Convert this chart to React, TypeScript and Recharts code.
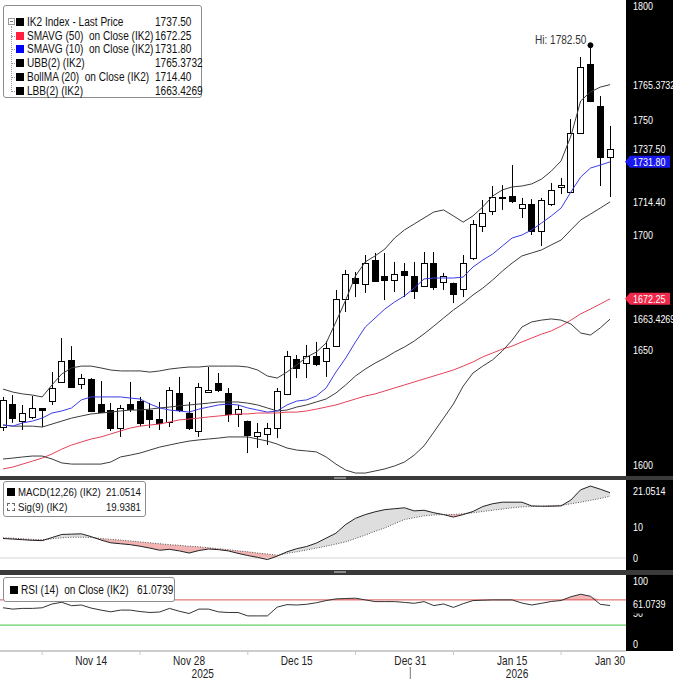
import React from 'react';
import { ComposedChart, Bar, Line, Area, XAxis, YAxis, ReferenceLine, ReferenceDot } from 'recharts';

// daily candles, oldest first
const opens = [1616.5, 1626.5, 1619.1, 1620.9, 1624.8, 1627.8, 1636.1, 1645.7, 1635.2, 1637.4, 1626.5, 1623.9, 1616.1, 1626.5, 1627.8, 1623.9, 1620.0, 1618.7, 1631.3, 1622.6, 1614.8, 1631.7, 1635.7, 1631.3, 1622.2, 1619.1, 1612.6, 1613.5, 1616.1, 1630.9, 1646.1, 1644.3, 1647.4, 1645.2, 1651.7, 1672.2, 1681.3, 1678.7, 1689.1, 1682.2, 1680.4, 1684.3, 1682.2, 1677.8, 1687.8, 1679.6, 1679.1, 1676.5, 1690.0, 1703.9, 1710.4, 1716.5, 1717.0, 1711.7, 1713.5, 1701.7, 1713.5, 1720.9, 1718.7, 1744.3, 1774.3, 1756.1, 1733.9];
const highs = [1629.6, 1630.4, 1626.1, 1630.0, 1624.8, 1640.4, 1655.2, 1651.7, 1639.6, 1637.8, 1636.5, 1627.0, 1626.1, 1636.1, 1629.6, 1627.0, 1627.4, 1633.9, 1638.3, 1627.4, 1635.7, 1642.6, 1640.0, 1633.5, 1626.1, 1619.3, 1618.3, 1618.3, 1633.5, 1649.6, 1647.8, 1652.2, 1653.5, 1653.9, 1676.1, 1684.8, 1683.9, 1691.3, 1692.2, 1692.2, 1688.3, 1687.8, 1688.3, 1692.6, 1692.6, 1683.5, 1679.3, 1691.3, 1706.5, 1715.2, 1721.3, 1721.7, 1730.4, 1716.1, 1715.6, 1716.1, 1722.6, 1724.8, 1750.4, 1777.4, 1782.5, 1760.4, 1747.4];
const lows = [1614.8, 1618.3, 1615.2, 1620.0, 1616.5, 1626.1, 1635.7, 1633.5, 1633.0, 1623.0, 1622.6, 1614.8, 1612.2, 1623.0, 1616.9, 1616.1, 1615.2, 1616.5, 1623.0, 1615.2, 1612.2, 1631.3, 1631.7, 1618.7, 1616.5, 1605.2, 1607.4, 1608.7, 1611.7, 1630.4, 1637.8, 1637.8, 1643.0, 1638.3, 1651.3, 1666.5, 1673.0, 1674.8, 1679.6, 1671.7, 1675.2, 1673.0, 1672.2, 1677.4, 1676.1, 1676.1, 1670.4, 1673.0, 1689.1, 1701.3, 1708.7, 1710.9, 1713.9, 1707.4, 1700.0, 1695.2, 1712.6, 1717.8, 1718.3, 1743.9, 1757.8, 1721.3, 1716.5];
const closes = [1628.3, 1620.4, 1622.6, 1624.8, 1623.9, 1633.5, 1645.2, 1633.9, 1637.8, 1623.5, 1623.0, 1616.1, 1624.8, 1624.3, 1618.3, 1620.0, 1618.3, 1632.6, 1623.9, 1616.1, 1633.9, 1632.6, 1632.6, 1622.2, 1624.3, 1613.0, 1614.3, 1616.1, 1632.2, 1647.4, 1642.2, 1647.4, 1643.9, 1650.9, 1672.2, 1683.0, 1679.1, 1687.8, 1680.0, 1680.4, 1683.0, 1682.6, 1675.7, 1687.8, 1677.4, 1682.2, 1674.3, 1687.8, 1704.8, 1709.6, 1716.5, 1716.1, 1714.8, 1713.5, 1701.7, 1715.2, 1719.6, 1721.7, 1744.3, 1773.0, 1758.3, 1733.9, 1737.5];

// studies
const sma10 = [1617.4, 1616.9, 1618.3, 1619.1, 1620.4, 1622.6, 1623.5, 1624.8, 1628.3, 1629.6, 1629.6, 1629.6, 1629.6, 1629.1, 1628.7, 1626.5, 1624.8, 1623.9, 1623.5, 1623.0, 1624.3, 1625.2, 1626.1, 1626.5, 1626.1, 1624.8, 1623.9, 1623.0, 1623.5, 1626.1, 1627.8, 1628.3, 1630.0, 1633.5, 1640.4, 1646.5, 1653.5, 1660.0, 1663.9, 1667.8, 1670.9, 1673.5, 1676.9, 1680.9, 1681.3, 1681.3, 1681.3, 1681.7, 1686.1, 1689.1, 1691.7, 1695.2, 1698.7, 1700.0, 1702.2, 1705.2, 1708.3, 1711.7, 1718.7, 1725.2, 1729.1, 1730.4, 1731.8];
const sma50 = [1598.3, 1599.1, 1600.4, 1601.7, 1603.0, 1604.8, 1606.9, 1608.7, 1610.0, 1611.3, 1612.2, 1613.5, 1614.8, 1616.1, 1616.9, 1617.4, 1617.8, 1618.7, 1619.6, 1620.0, 1620.4, 1620.9, 1621.3, 1621.7, 1622.2, 1622.2, 1622.6, 1622.6, 1622.6, 1623.0, 1623.0, 1623.5, 1624.3, 1625.2, 1626.1, 1627.4, 1628.7, 1630.0, 1630.9, 1632.2, 1633.5, 1634.8, 1636.1, 1637.4, 1638.7, 1640.0, 1641.3, 1643.0, 1644.8, 1647.0, 1648.7, 1650.4, 1651.7, 1653.5, 1655.2, 1656.9, 1658.3, 1660.4, 1663.0, 1665.7, 1667.8, 1670.0, 1672.25];
const ubb = [1633.0, 1631.7, 1630.9, 1630.4, 1629.6, 1634.8, 1639.6, 1642.2, 1643.0, 1643.0, 1642.2, 1641.3, 1640.9, 1640.9, 1640.9, 1640.4, 1640.9, 1641.7, 1642.2, 1642.6, 1642.6, 1643.0, 1643.0, 1643.0, 1643.0, 1642.6, 1641.3, 1638.7, 1637.8, 1640.4, 1643.5, 1646.9, 1649.1, 1653.0, 1662.2, 1671.7, 1682.2, 1688.3, 1690.9, 1693.9, 1698.7, 1702.2, 1704.8, 1707.4, 1710.0, 1710.9, 1708.3, 1705.6, 1708.3, 1712.2, 1716.9, 1719.6, 1720.9, 1721.3, 1722.2, 1724.3, 1727.8, 1732.2, 1743.0, 1758.3, 1762.2, 1764.3, 1765.3732];
const bollMa = [1617.4, 1616.9, 1616.9, 1616.9, 1616.5, 1617.8, 1619.1, 1620.4, 1621.3, 1622.2, 1622.6, 1623.0, 1623.5, 1623.9, 1623.9, 1624.3, 1624.8, 1625.2, 1625.7, 1626.1, 1626.5, 1626.9, 1627.4, 1627.4, 1627.4, 1626.9, 1626.1, 1624.8, 1623.5, 1623.9, 1625.2, 1626.1, 1627.4, 1628.7, 1631.3, 1634.8, 1638.7, 1641.7, 1644.3, 1646.5, 1649.1, 1651.3, 1653.9, 1657.0, 1660.4, 1663.9, 1667.4, 1670.4, 1673.9, 1676.9, 1680.4, 1684.3, 1687.8, 1690.9, 1692.2, 1693.5, 1695.7, 1697.8, 1702.2, 1706.5, 1709.1, 1711.7, 1714.4];
const lbb = [1602.6, 1603.0, 1603.5, 1603.9, 1603.9, 1602.6, 1600.9, 1600.4, 1600.4, 1600.4, 1600.4, 1601.3, 1603.5, 1604.3, 1605.2, 1606.5, 1607.8, 1608.7, 1609.6, 1610.4, 1610.9, 1611.3, 1611.7, 1612.2, 1612.2, 1612.2, 1611.3, 1610.4, 1609.1, 1607.4, 1606.5, 1606.1, 1605.7, 1603.5, 1600.4, 1597.8, 1596.5, 1596.5, 1597.4, 1598.3, 1599.6, 1601.3, 1604.3, 1608.3, 1614.3, 1620.4, 1626.5, 1634.3, 1640.0, 1643.0, 1645.7, 1649.6, 1654.3, 1660.0, 1662.2, 1663.0, 1663.5, 1663.0, 1661.3, 1657.4, 1656.5, 1659.6, 1663.4269];

const macd = [6.3, 6.1, 5.9, 5.7, 5.6, 6.6, 7.6, 7.7, 7.8, 6.9, 5.8, 4.9, 4.6, 4.3, 3.8, 3.2, 2.5, 2.8, 2.3, 1.6, 2.4, 2.9, 2.7, 2.3, 1.5, 0.8, 0.2, -0.5, 0.6, 2.0, 3.0, 3.7, 4.8, 6.4, 8.0, 10.8, 12.8, 14.0, 14.9, 15.6, 15.9, 16.2, 15.2, 15.4, 14.6, 14.0, 13.2, 14.0, 15.0, 16.6, 17.5, 18.0, 18.0, 18.0, 16.8, 16.7, 16.7, 16.8, 18.7, 22.0, 23.2, 22.2, 21.0514];
const signal = [6.5, 6.4, 6.2, 6.0, 5.9, 6.2, 6.5, 6.7, 6.7, 6.6, 6.3, 6.0, 5.8, 5.5, 5.2, 4.9, 4.6, 4.3, 4.1, 3.8, 3.6, 3.3, 3.0, 2.7, 2.3, 2.0, 1.6, 1.3, 0.9, 1.5, 2.0, 2.6, 3.2, 3.8, 4.5, 5.2, 6.3, 7.4, 8.6, 9.7, 11.1, 12.4, 13.0, 13.6, 13.9, 14.0, 14.0, 14.3, 14.6, 15.0, 15.4, 15.8, 16.2, 16.5, 16.6, 16.7, 16.9, 17.0, 17.5, 18.0, 18.6, 19.2, 19.9381];
const rsi = [57.5, 55.4, 56.5, 56.5, 57.5, 63.5, 66.2, 60.8, 61.9, 57.0, 53.8, 51.1, 53.8, 53.8, 51.5, 50.0, 50.8, 56.5, 52.0, 48.4, 55.4, 55.4, 51.0, 50.0, 50.0, 44.6, 44.6, 44.6, 58.5, 62.5, 61.9, 63.0, 65.5, 68.9, 71.6, 72.2, 72.7, 70.0, 67.3, 67.3, 67.3, 66.0, 64.6, 67.3, 61.0, 63.5, 58.1, 64.0, 68.9, 69.5, 70.0, 70.0, 70.0, 65.0, 61.9, 64.6, 67.5, 69.0, 75.0, 79.0, 75.8, 63.0, 61.0739];

// axis ticks (x in candle index units)
const dateTicks = [
  { i: 9, label: 'Nov 14' },
  { i: 19, label: 'Nov 28' },
  { i: 30, label: 'Dec 15' },
  { i: 41.6, label: 'Dec 31' },
  { i: 52, label: 'Jan 15' },
  { i: 62, label: 'Jan 30' },
];
const minorTicks = [4, 14, 25, 36, 46, 57];
const yearTicks = [
  { i: 20.4, label: '2025' },
  { i: 52.5, label: '2026' },
];
const yearBreak = 41.6;

const priceTicks = [1600, 1650, 1700, 1750, 1800];
const macdTicks = [0, 10];
const rsiTicks = [0, 50, 100];
const rsiUpper = 70;
const rsiLower = 30;
const hiIndex = 60;
const hiValue = 1782.5;

const lastLabels = [
  { key: 'lbb', value: 1663.4269, text: '1663.4269' },
  { key: 'sma50', value: 1672.25, text: '1672.25' },
  { key: 'bollMa', value: 1714.4, text: '1714.40' },
  { key: 'sma10', value: 1731.8, text: '1731.80' },
  { key: 'price', value: 1737.5, text: '1737.50' },
  { key: 'ubb', value: 1765.3732, text: '1765.3732' },
];
const mainLegend = [
  { key: 'price', name: 'IK2 Index - Last Price' },
  { key: 'sma50', name: 'SMAVG (50)  on Close (IK2)' },
  { key: 'sma10', name: 'SMAVG (10)  on Close (IK2)' },
  { key: 'ubb', name: 'UBB(2) (IK2)' },
  { key: 'bollMa', name: 'BollMA (20)  on Close (IK2)' },
  { key: 'lbb', name: 'LBB(2) (IK2)' },
];
const macdLast = { value: 21.0514, text: '21.0514' };
const sigLast = { value: 19.9381, text: '19.9381' };
const rsiLast = { value: 61.0739, text: '61.0739' };

const FONT = '"Liberation Sans", Arial, sans-serif';
const SX = 0.84; // horizontal squeeze for legend / date text
const AX = 0.78; // horizontal squeeze for axis numbers
const W = 673;
const AXIS_W = 47;
const PLOT_W = W - AXIS_W;
const MAIN_H = 476;
const MACD_TOP = 480;
const MACD_H = 90;
const RSI_TOP = 575;
const RSI_PLOT_H = 76;
const XAXIS_H = 28;
const xDomain = [-0.31, 63.63];

const swatch: Record<string, string> = { price: '#000', sma50: '#ff2040', sma10: '#0000ff', ubb: '#000', bollMa: '#000', lbb: '#000' };
const tagFill: Record<string, string> = { sma50: '#f0284a', sma10: '#1a1af0' };

const rows = opens.map((o, i) => ({
  i,
  o,
  h: highs[i],
  l: lows[i],
  c: closes[i],
  hl: [lows[i], highs[i]],
  sma10: sma10[i],
  sma50: sma50[i],
  ubb: ubb[i],
  bollMa: bollMa[i],
  lbb: lbb[i],
  macd: macd[i],
  sig: signal[i],
  macdUp: [signal[i], Math.max(macd[i], signal[i])],
  macdDown: [Math.min(macd[i], signal[i]), signal[i]],
  rsi: rsi[i],
  rsiHot: [rsiUpper, Math.max(rsi[i], rsiUpper)],
}));

const SqText = ({ x, y, scale, anchor = 'start', size = 12, fill = '#fff', children }: any) => (
  <text transform={`translate(${x},${y}) scale(${scale},1)`} x={0} y={0} dy="0.36em" textAnchor={anchor}
    fontSize={size} fontFamily={FONT} fill={fill}>{children}</text>
);

const Candle = (p: any) => {
  const { x, y, width, height, payload } = p;
  if (x == null || y == null) return null;
  const { o, h, l, c } = payload;
  const top = Math.min(y, y + height);
  const span = Math.abs(height);
  const k = h > l ? span / (h - l) : 0;
  const yOf = (v: number) => top + (h - v) * k;
  const cx = Math.round(x + width / 2) + 0.5;
  const bTop = Math.round(yOf(Math.max(o, c))) + 0.5;
  const bBot = Math.round(yOf(Math.min(o, c))) + 0.5;
  const up = c >= o;
  return (
    <g>
      <line x1={cx} x2={cx} y1={top} y2={top + span} stroke="#000" strokeWidth={1} />
      <rect x={cx - 3} y={bTop} width={6} height={Math.max(bBot - bTop, 1)} fill={up ? '#fff' : '#000'} stroke="#000" strokeWidth={1} />
    </g>
  );
};

const PriceTick = (props: any) => {
  const { y, payload } = props;
  const v = payload.value;
  const last = lastLabels.find((d) => Math.abs(d.value - v) < 1e-6);
  const text = last ? last.text : String(v);
  const fill = last ? tagFill[last.key] : undefined;
  const ty = v === priceTicks[priceTicks.length - 1] ? y + 1 : y;
  return (
    <g>
      {fill && (
        <path
          d={`M${PLOT_W - 1},${y} L${PLOT_W + 4},${y - 6} L${PLOT_W + 44},${y - 6} L${PLOT_W + 44},${y + 6} L${PLOT_W + 4},${y + 6} Z`}
          fill={fill}
        />
      )}
      <SqText x={PLOT_W + 7} y={ty} scale={AX} size={11.5}>{text}</SqText>
    </g>
  );
};

const makeTick = (last: { value: number; text: string }) => (props: any) => {
  const { y, payload } = props;
  const v = payload.value;
  const isLast = Math.abs(v - last.value) < 1e-6;
  return (
    <g>
      {isLast && <rect x={PLOT_W + 2} y={y - 9} width={AXIS_W - 2} height={17} fill="#000" />}
      <SqText x={PLOT_W + 7} y={isLast ? y - 2 : y} scale={AX} size={11.5}>{isLast ? last.text : String(v)}</SqText>
    </g>
  );
};
const MacdTick = makeTick(macdLast);
const RsiTick = makeTick(rsiLast);

const DateTick = (props: any) => {
  const { x, payload } = props;
  const v = payload.value;
  const top = RSI_PLOT_H;
  const d = dateTicks.find((t) => t.i === v);
  const yr = yearTicks.find((t) => t.i === v);
  if (d) {
    return (
      <g>
        <SqText x={x} y={top + 10} scale={SX} anchor="middle" fill="#222">{d.label}</SqText>
        {v === yearBreak && <line x1={x} x2={x} y1={top + 16} y2={top + XAXIS_H} stroke="#777" />}
      </g>
    );
  }
  if (yr) return <SqText x={x} y={top + 23} scale={SX} anchor="middle" fill="#222">{yr.label}</SqText>;
  return <line x1={x} x2={x} y1={top} y2={top + 4} stroke="#c8c8c8" />;
};

const HiLabel = (props: any) => {
  const vb = props.viewBox || {};
  const cx = (vb.x ?? 0) + (vb.width ?? 0) / 2;
  const cy = (vb.y ?? 0) + (vb.height ?? 0) / 2;
  return <SqText x={cx - 4} y={cy - 6} scale={SX} anchor="end" fill="#333">{`Hi: ${hiValue.toFixed(2)}`}</SqText>;
};

const lineProps = { dot: false, isAnimationActive: false, strokeWidth: 1, type: 'linear' as const, activeDot: false };

const sq: React.CSSProperties = { display: 'inline-block', transform: `scaleX(${SX})`, transformOrigin: '0 50%', whiteSpace: 'pre' };

const Row = ({ top, color, dashed, name, value, nameLeft, valueLeft }: any) => (
  <div style={{ position: 'absolute', top, left: 0, height: 14, lineHeight: '14px', width: '100%' }}>
    <div style={{ position: 'absolute', left: nameLeft - 11, top: 3, width: 8, height: 8, background: dashed ? '#fff' : color, border: dashed ? '1px dashed #666' : 'none', boxSizing: 'border-box' }} />
    <span style={{ position: 'absolute', left: nameLeft }}><span style={sq}>{name}</span></span>
    <span style={{ position: 'absolute', left: valueLeft }}><span style={sq}>{value}</span></span>
  </div>
);

const boxStyle = (left: number, top: number, width: number, height: number, size = 12): React.CSSProperties => ({
  position: 'absolute', left, top, width, height, background: '#fff', border: '1px solid #8c8c8c', borderRadius: 3,
  boxSizing: 'border-box', fontFamily: FONT, fontSize: size, color: '#111',
});

export default function App() {
  const lastOf = (k: string) => lastLabels.find((d) => d.key === k)!.text;
  const allXTicks = [...minorTicks, ...dateTicks.map((d) => d.i), ...yearTicks.map((d) => d.i)];
  return (
    <div style={{ position: 'absolute', left: 0, top: 0, width: W, height: 679, overflow: 'hidden', background: '#fff' }}>
      <div style={{ position: 'absolute', left: PLOT_W, top: 0, width: AXIS_W, height: RSI_TOP + RSI_PLOT_H, background: '#000' }} />

      <div style={{ position: 'absolute', left: 0, top: 0 }}>
        <ComposedChart width={W} height={MAIN_H} data={rows} margin={{ top: 0, right: 0, bottom: 0, left: 0 }}>
          <XAxis dataKey="i" type="number" domain={xDomain} hide allowDataOverflow />
          <YAxis orientation="right" width={AXIS_W} domain={[1595.22, 1802.17]} allowDataOverflow
            ticks={[...priceTicks, ...lastLabels.map((d) => d.value)]} interval={0}
            tick={PriceTick} axisLine={false} tickLine={false} />
          <Bar dataKey="hl" barSize={7} isAnimationActive={false} shape={(p: any) => <Candle {...p} />} />
          <Line dataKey="sma50" stroke="#e6405a" {...lineProps} />
          <Line dataKey="lbb" stroke="#3c3c3c" {...lineProps} />
          <Line dataKey="ubb" stroke="#3c3c3c" {...lineProps} />
          <Line dataKey="bollMa" stroke="#3c3c3c" {...lineProps} />
          <Line dataKey="sma10" stroke="#3b3be6" {...lineProps} />
          <ReferenceDot x={hiIndex} y={hiValue} r={2.5} fill="#000" stroke="#000" label={HiLabel} />
        </ComposedChart>
      </div>

      <div style={{ position: 'absolute', left: 0, top: MAIN_H, width: W, height: 4, background: '#3a3a3a' }} />
      <div style={{ position: 'absolute', left: 334, top: MAIN_H + 1, width: 12, height: 2, background: '#8a8a8a' }} />

      <div style={{ position: 'absolute', left: 0, top: MACD_TOP }}>
        <ComposedChart width={W} height={MACD_H} data={rows} margin={{ top: 0, right: 0, bottom: 0, left: 0 }}>
          <XAxis dataKey="i" type="number" domain={xDomain} hide allowDataOverflow />
          <YAxis orientation="right" width={AXIS_W} domain={[-3.87, 25.16]} allowDataOverflow
            ticks={[...macdTicks, macdLast.value]} interval={0} tick={MacdTick} axisLine={false} tickLine={false} />
          <ReferenceLine y={0} stroke="#d4d4d4" />
          <Area dataKey="macdUp" fill="#dedede" fillOpacity={1} stroke="none" isAnimationActive={false} type="linear" activeDot={false} />
          <Area dataKey="macdDown" fill="#f2b3b3" fillOpacity={1} stroke="none" isAnimationActive={false} type="linear" activeDot={false} />
          <Line dataKey="sig" stroke="#555" strokeDasharray="1 1.5" {...lineProps} />
          <Line dataKey="macd" stroke="#222" {...lineProps} />
        </ComposedChart>
      </div>

      <div style={{ position: 'absolute', left: 0, top: 570, width: W, height: 5, background: '#3a3a3a' }} />
      <div style={{ position: 'absolute', left: 334, top: 571, width: 12, height: 2, background: '#8a8a8a' }} />

      <div style={{ position: 'absolute', left: 0, top: RSI_TOP }}>
        <ComposedChart width={W} height={RSI_PLOT_H + XAXIS_H} data={rows} margin={{ top: 0, right: 0, bottom: 0, left: 0 }}>
          <XAxis dataKey="i" type="number" domain={xDomain} allowDataOverflow ticks={allXTicks} interval={0}
            height={XAXIS_H} tick={DateTick} tickLine={false} axisLine={{ stroke: '#9a9a9a' }} />
          <YAxis orientation="right" width={AXIS_W} domain={[-11.11, 109.52]} allowDataOverflow
            ticks={[...rsiTicks.slice(0, 2), rsiLast.value, ...rsiTicks.slice(2)]} interval={0} tick={RsiTick}
            axisLine={false} tickLine={false} />
          <Area dataKey="rsiHot" fill="#f3b6b6" fillOpacity={1} stroke="none" isAnimationActive={false} type="linear" activeDot={false} />
          <ReferenceLine y={rsiUpper} stroke="#e05656" />
          <ReferenceLine y={rsiLower} stroke="#3fc23f" />
          <Line dataKey="rsi" stroke="#333" {...lineProps} />
        </ComposedChart>
      </div>

      {/* legends */}
      <div style={boxStyle(3, 5, 199, 93)}>
        <div style={{ position: 'absolute', left: 4, top: 12, width: 5, height: 5, border: '1px solid #999', boxSizing: 'content-box' }}>
          <div style={{ position: 'absolute', left: 1, top: 2, width: 3, height: 1, background: '#777' }} />
        </div>
        <div style={{ position: 'absolute', left: 7, top: 20, width: 0, height: 64, borderLeft: '1px dotted #999' }} />
        {mainLegend.map((r, k) => (
          <React.Fragment key={r.key}>
            {k > 0 && <div style={{ position: 'absolute', left: 7, top: 16 + k * 13.7, width: 4, height: 0, borderTop: '1px dotted #999' }} />}
            <Row top={9 + k * 13.7} color={swatch[r.key]} name={r.name} value={lastOf(r.key)} nameLeft={23} valueLeft={151} />
          </React.Fragment>
        ))}
      </div>

      <div style={boxStyle(3, 481, 143, 36, 11.5)}>
        <Row top={3} color="#000" name="MACD(12,26) (IK2)" value={macdLast.text} nameLeft={14} valueLeft={102} />
        <Row top={18} dashed name="Sig(9) (IK2)" value={sigLast.text} nameLeft={14} valueLeft={102} />
      </div>

      <div style={boxStyle(3, 577, 172, 25)}>
        <Row top={5} color="#000" name="RSI (14)  on Close (IK2)" value={rsiLast.text} nameLeft={17} valueLeft={133} />
      </div>
    </div>
  );
}
